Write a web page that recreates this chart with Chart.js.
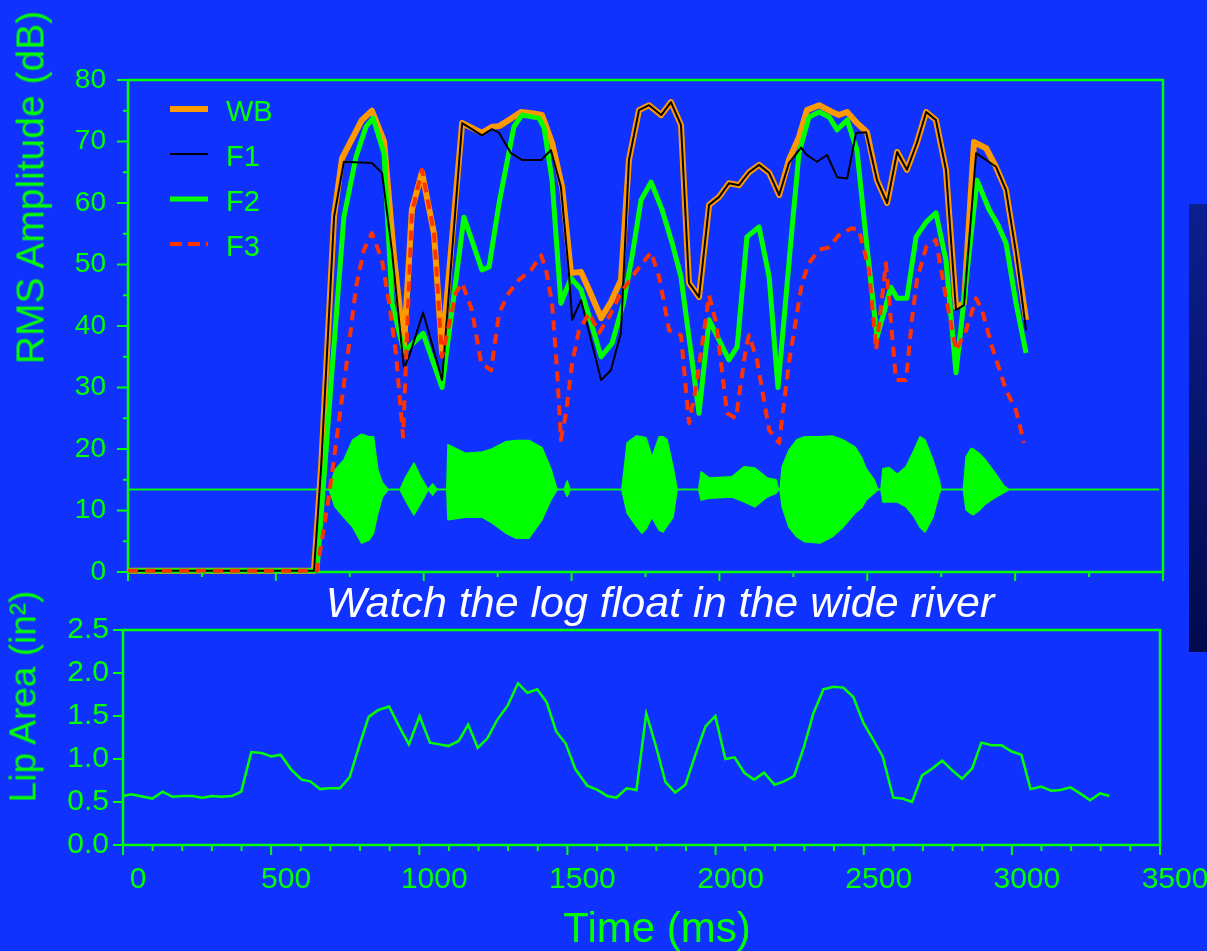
<!DOCTYPE html>
<html>
<head>
<meta charset="utf-8">
<script src="https://cdn.jsdelivr.net/npm/chart.js@4.4.1/dist/chart.umd.min.js"></script>
<style>
  html, body { margin: 0; padding: 0; width: 1207px; height: 951px; overflow: hidden; background: #1032ff; }
  body { position: relative; font-family: "Liberation Sans", Arial, Helvetica, sans-serif; }
  canvas { position: absolute; left: 0; }
  #rmsChart { top: 0; }
  #lipChart { top: 590px; }
  .txt { position: absolute; white-space: nowrap; text-align: center; color: #00ff00; }
  #rmsTitle { width: 420px; left: -180px; top: 168px; font-size: 39px; line-height: 39px; transform: rotate(-90deg); }
  #lipTitle { width: 300px; left: -127px; top: 678px; font-size: 37px; line-height: 37px; transform: rotate(-90deg); }
  #caption { width: 900px; left: 210px; top: 581px; font-size: 43px; line-height: 43px; font-style: italic; color: #ffffff; }
  #timeTitle { width: 400px; left: 457px; top: 907px; font-size: 42px; line-height: 42px; }
  #sidePanel { position: absolute; left: 1189px; top: 204px; width: 18px; height: 448px;
               background: linear-gradient(#0c1f8f, #020a4c); }
</style>
</head>
<body>
<canvas id="rmsChart" width="1180" height="600"></canvas>
<canvas id="lipChart" width="1207" height="361"></canvas>
<div id="sidePanel"></div>
<div id="rmsTitle" class="txt">RMS Amplitude (dB)</div>
<div id="lipTitle" class="txt">Lip Area (in²)</div>
<div id="caption" class="txt">Watch the log float in the wide river</div>
<div id="timeTitle" class="txt">Time (ms)</div>
<script>
// RMS amplitude per band (time in ms, level in dB)
const wbTime = [0, 629, 653, 697, 724, 791, 825, 866, 900, 933, 960, 994, 1035, 1062, 1130, 1197, 1231, 1255, 1288, 1329, 1366, 1400, 1434, 1468, 1498, 1532, 1559, 1600, 1633, 1667, 1694, 1728, 1762, 1803, 1836, 1870, 1897, 1931, 1965, 1999, 2032, 2066, 2100, 2134, 2168, 2202, 2235, 2269, 2296, 2337, 2381, 2404, 2432, 2465, 2499, 2533, 2567, 2601, 2634, 2668, 2699, 2732, 2766, 2800, 2827, 2861, 2902, 2935, 2969, 3003, 3037];
const wbDb = [0.2, 0.2, 17, 58, 67.3, 73.5, 75, 70, 51, 36.6, 58.9, 65, 55, 35.6, 73, 71.4, 72.4, 72.5, 73.5, 74.8, 74.6, 74.3, 69.8, 62.6, 48.6, 48.8, 45.9, 41.3, 43.9, 47.5, 67, 75.1, 75.9, 74.3, 76.4, 72.7, 47, 44.7, 59.7, 61, 63.2, 62.9, 65, 66.2, 64.9, 61.3, 67, 70.7, 75.1, 75.9, 74.8, 74.3, 74.8, 73, 71.5, 63.7, 60, 68.3, 65.4, 69.8, 74.8, 73.5, 65.4, 43.1, 43.7, 69.9, 68.9, 65.9, 62.1, 51.9, 41];

const f1Time = [0, 629, 653, 697, 730, 825, 859, 893, 933, 950, 998, 1062, 1130, 1197, 1231, 1255, 1295, 1332, 1397, 1430, 1464, 1491, 1502, 1532, 1600, 1633, 1667, 1694, 1728, 1762, 1803, 1836, 1870, 1897, 1931, 1965, 1999, 2032, 2066, 2100, 2134, 2168, 2202, 2235, 2276, 2296, 2330, 2364, 2398, 2432, 2462, 2496, 2533, 2567, 2601, 2634, 2668, 2699, 2732, 2766, 2800, 2827, 2868, 2935, 2969, 3003, 3037];
const f1Db = [0.2, 0.2, 17, 57.8, 66.7, 66.5, 64.9, 52, 33.2, 35, 42.2, 31.2, 73, 71, 72, 71.4, 68.1, 67, 67, 68.6, 62.6, 48.6, 41, 44.2, 31.2, 32.8, 38.9, 67, 75.1, 75.9, 74.3, 76.4, 72.7, 47, 44.7, 59.7, 61, 63.2, 62.9, 65, 66.2, 64.9, 61.3, 66.5, 69, 67.8, 66.7, 67.8, 64.2, 64, 71.4, 71.5, 63.7, 60, 68.3, 65.4, 69.8, 74.8, 73.5, 65.4, 42.6, 43.4, 68.1, 65.9, 62.1, 51.9, 39.3];

const f2Time = [0, 639, 690, 730, 771, 805, 829, 866, 893, 933, 960, 998, 1062, 1136, 1197, 1221, 1255, 1305, 1332, 1390, 1407, 1434, 1464, 1498, 1532, 1566, 1600, 1637, 1675, 1704, 1735, 1769, 1806, 1840, 1870, 1931, 1965, 2032, 2060, 2093, 2134, 2168, 2198, 2245, 2269, 2303, 2337, 2371, 2398, 2432, 2465, 2499, 2533, 2580, 2601, 2634, 2665, 2699, 2732, 2766, 2800, 2837, 2871, 2912, 2939, 2969, 3003, 3037];
const f2Db = [0.2, 0.2, 32.8, 57.7, 67.5, 72.4, 73.8, 68, 43.7, 35.8, 37, 38.8, 30, 57.7, 49.1, 49.6, 60, 72.4, 74.3, 73.8, 72.2, 63.7, 43.7, 47.8, 45.9, 40.5, 35, 37.2, 43.7, 51.2, 60.5, 63.4, 58.9, 53.5, 48, 25.8, 41, 34.5, 36.6, 54.5, 56.1, 48, 30, 55.6, 68.1, 74, 74.8, 74, 71.9, 73.5, 68.6, 52.8, 38.2, 46.3, 44.5, 44.5, 54.5, 56.9, 58.4, 50.7, 32.4, 48.6, 63.7, 58.9, 56.7, 53.5, 43.7, 35.6];

const f3Time = [0, 639, 680, 741, 771, 798, 825, 859, 883, 906, 930, 960, 994, 1035, 1062, 1109, 1130, 1163, 1194, 1228, 1255, 1288, 1322, 1363, 1397, 1414, 1434, 1451, 1464, 1481, 1502, 1525, 1559, 1593, 1627, 1667, 1704, 1769, 1796, 1830, 1870, 1897, 1921, 1965, 1989, 2026, 2056, 2090, 2100, 2127, 2168, 2202, 2235, 2279, 2303, 2337, 2371, 2404, 2448, 2472, 2506, 2530, 2563, 2597, 2631, 2651, 2668, 2699, 2732, 2766, 2800, 2834, 2868, 2888, 2922, 2969, 3003, 3030];
const f3Db = [0.2, 0.2, 12.5, 34.5, 46.3, 52.4, 55.1, 50.7, 43.7, 35.6, 22, 58.4, 65.4, 55.1, 35, 45.4, 47, 42.6, 34, 32.8, 42.1, 45.4, 47.5, 49.1, 51.5, 49.1, 43.7, 32.8, 21.5, 25.8, 34, 39.3, 42.1, 38.9, 41.5, 45.4, 48, 52, 48, 39.3, 38.5, 24.2, 30.1, 45, 40.5, 25.8, 25, 36.6, 38.5, 34.5, 23.1, 21, 34, 47, 50.2, 52.4, 52.8, 54.8, 55.9, 55.6, 49.1, 36.1, 50.2, 31.2, 31.2, 41, 47.5, 52.8, 54, 44.7, 36, 39.3, 44.5, 42.6, 36.6, 29.6, 26.3, 21];

// speech waveform envelope, drawn around its 13.4 dB baseline
const waveTime = [0, 680, 700, 730, 760, 790, 815, 830, 845, 860, 880, 920, 940, 967, 990, 1015, 1030, 1045, 1078, 1082, 1142, 1198, 1231, 1278, 1312, 1356, 1400, 1430, 1451, 1475, 1485, 1495, 1670, 1688, 1718, 1738, 1752, 1772, 1796, 1809, 1823, 1843, 1857, 1930, 1938, 1965, 2043, 2083, 2120, 2161, 2191, 2200, 2205, 2212, 2235, 2262, 2289, 2340, 2381, 2418, 2459, 2482, 2496, 2523, 2536, 2546, 2553, 2574, 2601, 2631, 2658, 2678, 2695, 2722, 2743, 2750, 2825, 2834, 2851, 2858, 2878, 2898, 2935, 2962, 2979, 3487];
const waveHigh = [13.4, 13.4, 16.6, 18.2, 21.5, 22.4, 22, 22, 16.6, 14.5, 13.4, 13.4, 15.5, 17.7, 15.4, 13.4, 14.3, 13.4, 13.4, 20.7, 19.3, 19.5, 20, 21.2, 21.4, 21.4, 20.2, 16.8, 13.4, 13.4, 14.8, 13.4, 13.4, 21, 22.1, 22, 21.8, 18.7, 22, 22, 21.5, 17.1, 13.4, 13.4, 16.3, 15.3, 15.5, 17.1, 16.9, 15.3, 15, 13.4, 13.4, 17.1, 19.8, 21.5, 22, 22, 22.1, 21.5, 20.3, 18.5, 16.8, 15, 13.4, 13.4, 16.8, 17, 15.9, 17.1, 19.8, 22, 21.5, 18.2, 15, 13.4, 13.4, 18.7, 20.1, 20, 19.3, 18.3, 15.9, 14, 13.4, 13.4];
const waveLow = [13.4, 13.4, 10.6, 8.9, 7.3, 4.7, 5.2, 6.3, 9.6, 12.2, 13.4, 13.4, 11.5, 9.3, 11.2, 13.4, 12.5, 13.4, 13.4, 8.5, 8.9, 8.9, 8, 6.3, 5.5, 5.5, 8.5, 11.7, 13.4, 13.4, 12.3, 13.4, 13.4, 9.6, 7.5, 6.3, 7, 8.9, 6.8, 6.5, 7.5, 8.9, 13.4, 13.4, 11.7, 12, 12.2, 11.4, 10.6, 12.2, 12.8, 13.4, 13.4, 10.6, 7.3, 5.7, 4.9, 4.7, 5.7, 7.3, 9.6, 10.5, 11.7, 12.8, 13.4, 13.4, 11.4, 11.4, 11.4, 10.6, 9, 7.3, 6.5, 8.9, 12.7, 13.4, 13.4, 10.1, 9.5, 9.3, 10, 11, 12.2, 12.9, 13.4, 13.4];

// lip opening area (in^2)
const lipTime = [0, 28, 99, 134, 167, 203, 235, 267, 300, 332, 368, 399, 433, 468, 500, 532, 567, 603, 632, 665, 696, 732, 765, 797, 829, 862, 898, 932, 965, 1001, 1036, 1068, 1098, 1133, 1165, 1197, 1230, 1262, 1298, 1333, 1365, 1398, 1430, 1462, 1494, 1527, 1567, 1601, 1635, 1665, 1700, 1733, 1766, 1797, 1831, 1864, 1898, 1932, 1966, 1999, 2033, 2064, 2097, 2130, 2164, 2199, 2231, 2265, 2299, 2330, 2364, 2398, 2431, 2465, 2499, 2533, 2564, 2600, 2631, 2663, 2697, 2728, 2765, 2798, 2832, 2866, 2897, 2931, 2965, 2998, 3032, 3063, 3099, 3133, 3164, 3198, 3230, 3264, 3298, 3329];
const lipArea = [0.57, 0.59, 0.54, 0.62, 0.56, 0.57, 0.57, 0.55, 0.57, 0.56, 0.57, 0.62, 1.08, 1.07, 1.03, 1.05, 0.88, 0.76, 0.74, 0.65, 0.66, 0.66, 0.79, 1.15, 1.49, 1.57, 1.61, 1.38, 1.17, 1.50, 1.19, 1.17, 1.15, 1.21, 1.40, 1.13, 1.24, 1.45, 1.62, 1.88, 1.77, 1.81, 1.66, 1.32, 1.18, 0.88, 0.69, 0.64, 0.57, 0.55, 0.66, 0.64, 1.53, 1.17, 0.73, 0.61, 0.70, 1.05, 1.38, 1.50, 1.00, 1.02, 0.84, 0.76, 0.84, 0.70, 0.74, 0.80, 1.15, 1.53, 1.81, 1.84, 1.83, 1.72, 1.42, 1.22, 1.03, 0.55, 0.54, 0.50, 0.81, 0.88, 0.98, 0.87, 0.77, 0.89, 1.19, 1.16, 1.16, 1.09, 1.05, 0.65, 0.68, 0.63, 0.64, 0.67, 0.60, 0.52, 0.60, 0.57];

const GREEN = '#00ff00';
Chart.defaults.font.family = '"Liberation Sans", Arial, Helvetica, sans-serif';

function pairs(ts, vs) {
    return ts.map((t, i) => ({ x: t, y: vs[i] }));
}

// plot frame plus outward tick marks, placed with the chart's own scales
const frameTicks = {
    id: 'frameTicks',
    beforeDatasetsDraw(chart) {
        const { ctx, chartArea: a } = chart;
        ctx.save();
        ctx.strokeStyle = GREEN;
        ctx.lineWidth = 2.5;
        ctx.strokeRect(a.left, a.top, a.right - a.left, a.bottom - a.top);
        ctx.restore();
    },
    afterDraw(chart, args, o) {
        const { ctx, chartArea: a, scales } = chart;
        const x = scales.x, y = scales.y;
        ctx.save();
        ctx.strokeStyle = GREEN;
        ctx.lineWidth = 2;
        ctx.beginPath();
        const nx = Math.round((x.max - x.min) / o.xMinor);
        for (let i = 0; i <= nx; i++) {
            const v = x.min + i * o.xMinor;
            const len = Math.round(v) % o.xMajor === 0 ? o.xLen[0] : o.xLen[1];
            const px = x.getPixelForValue(v);
            ctx.moveTo(px, a.bottom);
            ctx.lineTo(px, a.bottom + len);
        }
        const ny = Math.round((y.max - y.min) / o.yMinor);
        for (let i = 0; i <= ny; i++) {
            const v = y.min + i * o.yMinor;
            const len = i % o.yEvery === 0 ? o.yLen[0] : o.yLen[1];
            const py = y.getPixelForValue(v);
            ctx.moveTo(a.left, py);
            ctx.lineTo(a.left - len, py);
        }
        ctx.stroke();
        ctx.restore();
    }
};

// legend box inside the plot, top left
const legendBox = {
    id: 'legendBox',
    afterDatasetsDraw(chart) {
        const { ctx, chartArea: a } = chart;
        chart.data.datasets.slice(0, 4).forEach((ds, i) => {
            const y = a.top + 29 + i * 45;
            ctx.save();
            ctx.strokeStyle = ds.borderColor;
            ctx.lineWidth = ds.borderWidth;
            ctx.setLineDash(ds.legendDash || []);
            ctx.beginPath();
            ctx.moveTo(a.left + 42, y);
            ctx.lineTo(a.left + 80, y);
            ctx.stroke();
            ctx.setLineDash([]);
            ctx.fillStyle = GREEN;
            ctx.font = '29px "Liberation Sans", Arial, sans-serif';
            ctx.textBaseline = 'middle';
            ctx.fillText(ds.label, a.left + 98, y + 4);
            ctx.restore();
        });
    }
};

const rmsChart = new Chart(document.getElementById('rmsChart'), {
    type: 'line',
    data: {
        datasets: [
            { label: 'WB', data: pairs(wbTime, wbDb), borderColor: '#ff9900', borderWidth: 6, order: 4 },
            { label: 'F1', data: pairs(f1Time, f1Db), borderColor: '#000000', borderWidth: 2, order: 2 },
            { label: 'F2', data: pairs(f2Time, f2Db), borderColor: GREEN, borderWidth: 5, order: 3 },
            { label: 'F3', data: pairs(f3Time, f3Db), borderColor: '#ff3300', borderWidth: 4, borderDash: [10, 7], legendDash: [12, 6], order: 1 },
            { label: 'wave+', data: pairs(waveTime, waveHigh), borderColor: GREEN, backgroundColor: GREEN, borderWidth: 1.5, fill: '+1', order: 5 },
            { label: 'wave-', data: pairs(waveTime, waveLow), borderColor: GREEN, borderWidth: 1.5, fill: false, order: 6 }
        ]
    },
    options: {
        responsive: false,
        animation: false,
        clip: false,
        layout: { padding: { top: 80, right: 17, left: 0, bottom: 28 } },
        elements: { point: { radius: 0 }, line: { tension: 0, borderJoinStyle: 'round' } },
        plugins: {
            legend: { display: false },
            tooltip: { enabled: false },
            frameTicks: { xMinor: 250, xMajor: 500, xLen: [9, 5], yMinor: 5, yEvery: 2, yLen: [11, 5] }
        },
        scales: {
            x: { type: 'linear', min: 0, max: 3500, display: false },
            y: {
                min: 0, max: 80,
                grid: { display: false, drawTicks: false },
                border: { display: false },
                ticks: { stepSize: 10, color: GREEN, font: { size: 28 }, padding: 22 },
                afterFit(s) { s.width = 128; s.paddingTop = 0; s.paddingBottom = 0; }
            }
        }
    },
    plugins: [frameTicks, legendBox]
});

const lipChart = new Chart(document.getElementById('lipChart'), {
    type: 'line',
    data: {
        datasets: [
            { label: 'Lip Area', data: pairs(lipTime, lipArea), borderColor: GREEN, borderWidth: 2.5 }
        ]
    },
    options: {
        responsive: false,
        animation: false,
        layout: { padding: { top: 40, right: 47, left: 0, bottom: 0 } },
        elements: { point: { radius: 0 }, line: { tension: 0 } },
        plugins: {
            legend: { display: false },
            tooltip: { enabled: false },
            frameTicks: { xMinor: 100, xMajor: 500, xLen: [10, 6], yMinor: 0.5, yEvery: 1, yLen: [10, 10] }
        },
        scales: {
            x: {
                type: 'linear', min: 0, max: 3500,
                grid: { display: false, drawTicks: false },
                border: { display: false },
                ticks: { stepSize: 500, color: GREEN, font: { size: 30 }, padding: 17, labelOffset: 15, maxRotation: 0, callback: v => String(v) },
                afterFit(s) { s.height = 106; s.paddingLeft = 0; s.paddingRight = 0; }
            },
            y: {
                min: 0, max: 2.5,
                grid: { display: false, drawTicks: false },
                border: { display: false },
                ticks: { stepSize: 0.5, color: GREEN, font: { size: 30 }, padding: 14, callback: v => v.toFixed(1) },
                afterFit(s) { s.width = 123; s.paddingTop = 0; s.paddingBottom = 0; }
            }
        }
    },
    plugins: [frameTicks]
});
</script>
</body>
</html>
